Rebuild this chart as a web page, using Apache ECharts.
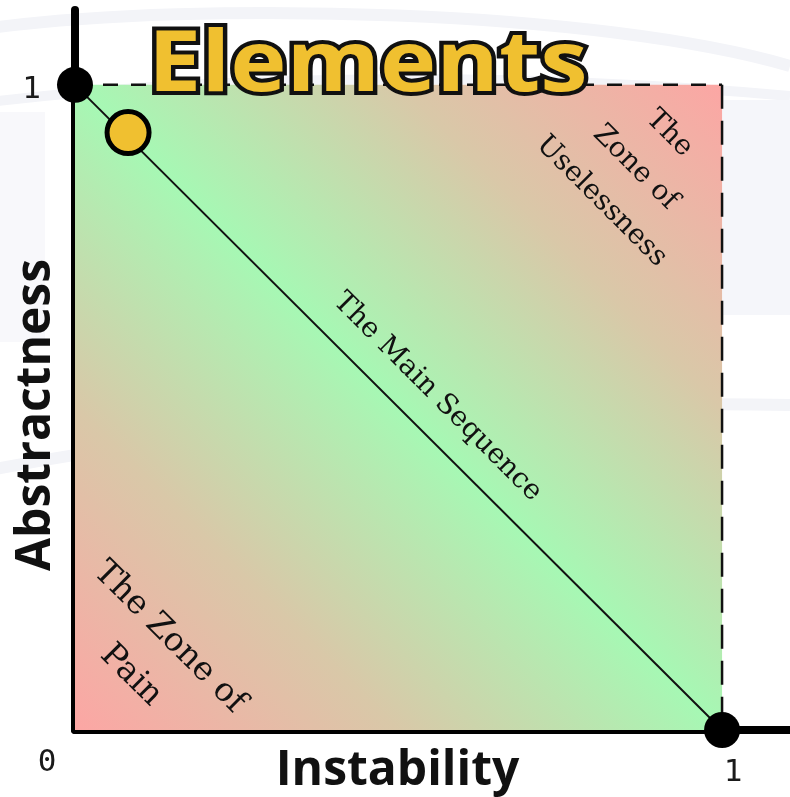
<!DOCTYPE html>
<html>
<head>
<meta charset="utf-8">
<script src="https://cdn.jsdelivr.net/npm/echarts@6/dist/echarts.min.js"></script>
<style>
  html, body { margin: 0; padding: 0; background: #fff; }
  #chart { width: 790px; height: 797px; }
</style>
</head>
<body>
<div id="chart"></div>
<script>
// data
const mainSequence = [[0, 1], [1, 0]];
const endPoints = [[0, 1], [1, 0]];
const elements = [[0.082, 0.926]];
const boundaryTop = [[0, 1], [1, 1]];
const boundaryRight = [[1, 1], [1, 0]];
const xTicks = [0, 1];
const yTicks = [1];
const zoneNames = ['The Main Sequence', 'The Zone of\nPain', 'The\nZone of\nUselessness'];
const zoneSpots = [[0.56, 0.516], [0.116, 0.114], [0.866, 0.872]];

const chart = echarts.init(document.getElementById('chart'), null, { renderer: 'canvas' });

const zoneFill = new echarts.graphic.LinearGradient(0, 1, 1, 0, [
    { offset: 0, color: '#fca6a4' },
    { offset: 0.25, color: '#d9c8a8' },
    { offset: 0.5, color: '#a6f8b4' },
    { offset: 0.75, color: '#d9c8a8' },
    { offset: 1, color: '#fca6a4' }
]);

const faint = '#f3f4f8';

// zone text: one size per label
const zoneStyle = [
    { fontSize: 28, lineHeight: 40 },
    { fontSize: 33, lineHeight: 54 },
    { fontSize: 28, lineHeight: 48 }
];
const zoneData = zoneNames.map((n, i) => ({ name: n, value: zoneSpots[i], label: zoneStyle[i] }));

chart.setOption({
    backgroundColor: '#fff',
    animation: false,
    graphic: [
        { type: 'bezierCurve', z: -10, shape: { x1: -10, y1: 28, x2: 790, y2: 66, cpx1: 200, cpy1: 0, cpx2: 600, cpy2: 10 }, style: { stroke: faint, lineWidth: 12, fill: null } },
        { type: 'bezierCurve', z: -10, shape: { x1: -10, y1: 102, x2: 790, y2: 96, cpx1: 250, cpy1: 70, cpx2: 550, cpy2: 75 }, style: { stroke: faint, lineWidth: 10, fill: null } },
        { type: 'bezierCurve', z: -10, shape: { x1: -10, y1: 470, x2: 790, y2: 405, cpx1: 250, cpy1: 420, cpx2: 550, cpy2: 400 }, style: { stroke: faint, lineWidth: 12, fill: null } },
        { type: 'rect', z: -10, shape: { x: 722, y: 100, width: 68, height: 215 }, style: { fill: '#f5f6fa' } },
        { type: 'rect', z: -10, shape: { x: 0, y: 112, width: 45, height: 230 }, style: { fill: '#f8f8fb' } },
        {
            type: 'text',
            z: 100,
            x: 148,
            y: 24,
            scaleX: 1.12,
            style: {
                text: 'Elements',
                fontFamily: 'Open Sans',
                fontWeight: 'bold',
                fontSize: 85,
                fill: '#f0c030',
                stroke: '#111',
                lineWidth: 8,
                strokeFirst: true,
                verticalAlign: 'top'
            }
        }
    ],
    grid: { left: 75, right: 0, top: 10, bottom: 67, outerBoundsMode: 'none', containLabel: false },
    xAxis: {
        type: 'value',
        min: 0,
        max: 1.105,
        name: 'Instability',
        nameLocation: 'middle',
        nameGap: 17,
        nameMoveOverlap: false,
        nameTextStyle: {
            fontFamily: 'Open Sans',
            fontWeight: 'bold',
            fontSize: 48,
            color: '#111',
            verticalAlign: 'top',
            padding: [0, 70, 0, 0]
        },
        splitLine: { show: false },
        axisTick: { show: false },
        axisLine: { lineStyle: { color: '#000', width: 8, cap: 'round' } },
        axisLabel: {
            customValues: xTicks,
            margin: 17,
            formatter: v => (v === 0 ? '{z|0}' : '{o|1}'),
            rich: {
                z: { fontFamily: 'DejaVu Sans Mono', fontSize: 31, color: '#1a1a1a', padding: [0, 56, 0, 0] },
                o: { fontFamily: 'DejaVu Sans Mono', fontSize: 31, color: '#1a1a1a', padding: [10, 0, 0, 22] }
            }
        }
    },
    yAxis: {
        type: 'value',
        min: 0,
        max: 1.116,
        name: 'Abstractness',
        nameLocation: 'middle',
        nameGap: 15,
        nameMoveOverlap: false,
        nameTextStyle: {
            fontFamily: 'Open Sans',
            fontWeight: 'bold',
            fontSize: 48,
            color: '#111',
            verticalAlign: 'bottom',
            padding: [0, 90, 0, 0]
        },
        splitLine: { show: false },
        axisTick: { show: false },
        axisLine: { lineStyle: { color: '#000', width: 8, cap: 'round' } },
        axisLabel: {
            customValues: yTicks,
            margin: 34,
            formatter: '{o|{value}}',
            rich: {
                o: { fontFamily: 'DejaVu Sans Mono', fontSize: 31, color: '#1a1a1a', padding: [10, 0, 0, 0] }
            }
        }
    },
    series: [
        {
            type: 'line',
            data: [],
            z: 1,
            markArea: {
                silent: true,
                itemStyle: { color: zoneFill, opacity: 1 },
                data: [[{ coord: [0, 0] }, { coord: [1, 1] }]]
            }
        },
        {
            type: 'line',
            data: boundaryTop,
            symbol: 'none',
            z: 2,
            lineStyle: { color: '#111', width: 2.5, type: [15, 13] }
        },
        {
            type: 'line',
            data: boundaryRight,
            symbol: 'none',
            z: 2,
            lineStyle: { color: '#111', width: 2.5, type: [24, 12] }
        },
        {
            type: 'line',
            data: mainSequence,
            symbol: 'none',
            z: 3,
            lineStyle: { color: '#111', width: 2 }
        },
        {
            type: 'scatter',
            data: zoneData,
            symbolSize: 0,
            z: 4,
            itemStyle: { opacity: 1 },
            label: {
                show: true,
                position: 'inside',
                formatter: p => p.name,
                rotate: -45,
                align: 'center',
                verticalAlign: 'middle',
                fontFamily: 'DejaVu Serif',
                fontSize: 28,
                lineHeight: 40,
                color: '#111'
            }
        },
        {
            type: 'scatter',
            data: endPoints,
            symbolSize: 36,
            z: 5,
            itemStyle: { color: '#000', opacity: 1 }
        },
        {
            type: 'scatter',
            data: elements,
            symbolSize: 42,
            z: 6,
            itemStyle: { color: '#f0c030', borderColor: '#000', borderWidth: 5, opacity: 1 }
        }
    ]
});
</script>
</body>
</html>
